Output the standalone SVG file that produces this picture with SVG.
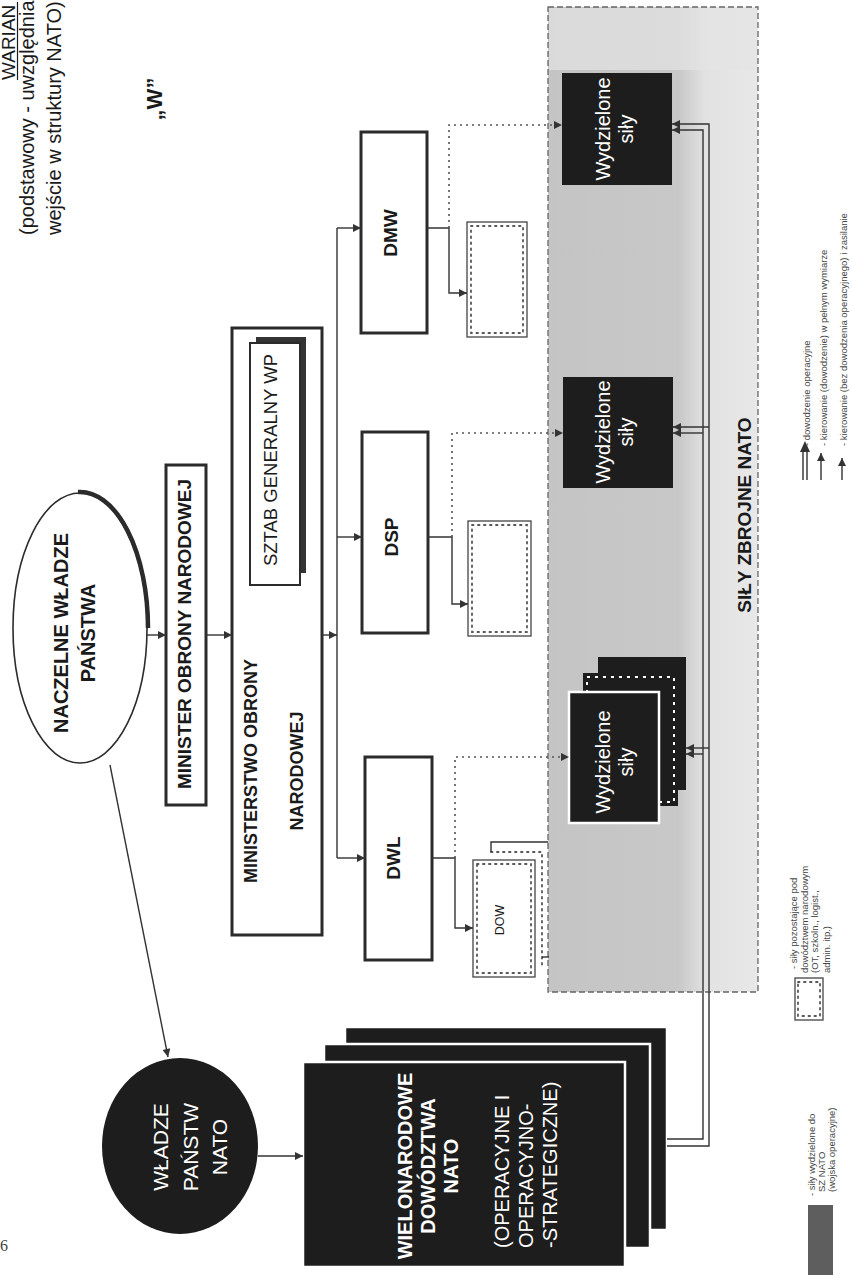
<svg xmlns="http://www.w3.org/2000/svg" width="852" height="1278" viewBox="0 0 852 1278">
<defs>
<style>
.t{font-family:"Liberation Sans",Arial,sans-serif;fill:#1a1a1a}
.b{font-weight:bold}
.w{fill:#ffffff}
.box{fill:#ffffff;stroke:#2b2b2b;stroke-width:3}
.dk{fill:#1d1d1d}
.stk{fill:#1d1d1d;stroke:#ffffff;stroke-width:2.5}
.ln{fill:none;stroke:#333333;stroke-width:1.4}
.dl{fill:none;stroke:#555555;stroke-width:1.6;stroke-dasharray:2 4}
.fb{fill:#ffffff;stroke:#444444;stroke-width:1.3}
.fd{fill:none;stroke:#555555;stroke-width:1.8;stroke-dasharray:1.5 4.5;stroke-linecap:round}
.lg{font-size:9.5px;fill:#444444}
</style>
<marker id="ah" markerUnits="userSpaceOnUse" viewBox="0 0 10 10" refX="10" refY="5" markerWidth="9" markerHeight="8" orient="auto"><path d="M0,0 L10,5 L0,10 z" fill="#333333"/></marker>
<linearGradient id="gg" x1="0" y1="0" x2="1" y2="0">
<stop offset="0" stop-color="#c4c4c4"/>
<stop offset="0.62" stop-color="#c8c8c8"/>
<stop offset="0.75" stop-color="#e2e2e2"/>
<stop offset="1" stop-color="#e8e8e8"/>
</linearGradient>
</defs>
<rect width="852" height="1278" fill="#ffffff"/>

<g id="header">
<text class="t" font-size="19" transform="translate(15,80) rotate(-90)">WARIAN</text>
<line x1="17.5" y1="80" x2="17.5" y2="2" stroke="#1a1a1a" stroke-width="1.2"/>
<text class="t" font-size="20" transform="translate(34,235) rotate(-90)">(podstawowy - uwzględnia</text>
<text class="t" font-size="20" transform="translate(61,235) rotate(-90)">wejście w struktury NATO)</text>
<text class="t b" font-size="22" text-anchor="middle" transform="translate(162,99) rotate(-90)">„W”</text>
</g>

<g id="sily-zbrojne-nato">
<rect x="548" y="7" width="210" height="985" fill="url(#gg)" stroke="#666666" stroke-width="1.3" stroke-dasharray="6 3"/>
<rect x="549" y="8" width="208" height="62" fill="#e4e4e4" opacity="0.7"/>
<text class="t b" font-size="19" text-anchor="middle" transform="translate(751,515) rotate(-90)">SIŁY ZBROJNE NATO</text>
</g>

<g id="naczelne-wladze">
<ellipse cx="80" cy="628" rx="67" ry="135" fill="#ffffff" stroke="#2b2b2b" stroke-width="1.6"/>
<path d="M78,492 A68,136 0 0 1 148,628" fill="none" stroke="#2b2b2b" stroke-width="4.5"/>
<text class="t b" font-size="20" text-anchor="middle" transform="translate(68,633) rotate(-90)">NACZELNE WŁADZE</text>
<text class="t b" font-size="20" text-anchor="middle" transform="translate(95,633) rotate(-90)">PAŃSTWA</text>
</g>

<g id="minister">
<rect class="box" x="166" y="465" width="40" height="340"/>
<text class="t b" font-size="19" text-anchor="middle" transform="translate(191,634) rotate(-90)">MINISTER OBRONY NARODOWEJ</text>
</g>

<g id="ministerstwo">
<rect class="box" x="232" y="328" width="90" height="607"/>
<text class="t b" font-size="18" text-anchor="middle" transform="translate(257,771) rotate(-90)">MINISTERSTWO OBRONY</text>
<text class="t b" font-size="18" text-anchor="middle" transform="translate(303,771) rotate(-90)">NARODOWEJ</text>
</g>

<g id="sztab">
<rect x="256" y="337" width="50" height="236" fill="#333333"/>
<rect x="250" y="343" width="50" height="242" fill="#ffffff" stroke="#2b2b2b" stroke-width="2"/>
<text class="t" font-size="18.5" text-anchor="middle" transform="translate(277,460) rotate(-90)">SZTAB GENERALNY WP</text>
</g>

<g id="dmw">
<rect class="box" x="361" y="132" width="66" height="201"/>
<text class="t b" font-size="19" text-anchor="middle" transform="translate(397,233) rotate(-90)">DMW</text>
</g>
<g id="dsp">
<rect class="box" x="362" y="432" width="66" height="201"/>
<text class="t b" font-size="19" text-anchor="middle" transform="translate(398,537) rotate(-90)">DSP</text>
</g>
<g id="dwl">
<rect class="box" x="365" y="757" width="67" height="203"/>
<text class="t b" font-size="19" text-anchor="middle" transform="translate(400,858) rotate(-90)">DWL</text>
</g>

<g id="dmw-sily-narodowe">
<rect class="fb" x="467" y="222" width="60" height="115"/>
<rect class="fd" x="471" y="226" width="52" height="107"/>
</g>
<g id="dsp-sily-narodowe">
<rect class="fb" x="468" y="521" width="63" height="115"/>
<rect class="fd" x="472" y="525" width="55" height="107"/>
</g>
<g id="dow">
<path class="fd" d="M491,852 H542 V967"/>
<rect class="fb" x="473" y="860" width="62" height="117"/>
<rect class="fd" x="477" y="864" width="54" height="109"/>
<text class="t" font-size="12.5" text-anchor="middle" transform="translate(504,920) rotate(-90)">DOW</text>
</g>

<g id="wydzielone-dmw">
<rect class="dk" x="562" y="73" width="110" height="112"/>
<text class="t w" font-size="20" text-anchor="middle" transform="translate(610,129) rotate(-90)">Wydzielone</text>
<text class="t w" font-size="20" text-anchor="middle" transform="translate(633,129) rotate(-90)">siły</text>
</g>
<g id="wydzielone-dsp">
<rect class="dk" x="563" y="377" width="110" height="111"/>
<text class="t w" font-size="20" text-anchor="middle" transform="translate(610,432) rotate(-90)">Wydzielone</text>
<text class="t w" font-size="20" text-anchor="middle" transform="translate(633,432) rotate(-90)">siły</text>
</g>
<g id="wydzielone-dwl">
<rect class="dk" x="598" y="657" width="88" height="133"/>
<rect class="dk" x="583" y="673" width="95" height="133"/>
<rect x="587" y="677" width="87" height="125" fill="none" stroke="#ffffff" stroke-width="2" stroke-dasharray="3 5"/>
<rect class="stk" x="569" y="692" width="90" height="131"/>
<text class="t w" font-size="20" text-anchor="middle" transform="translate(610,762) rotate(-90)">Wydzielone</text>
<text class="t w" font-size="20" text-anchor="middle" transform="translate(633,762) rotate(-90)">siły</text>
</g>

<g id="wladze-panstw-nato">
<ellipse cx="180" cy="1146" rx="78" ry="88" fill="#1d1d1d"/>
<text class="t w" font-size="21" text-anchor="middle" transform="translate(168,1147) rotate(-90)">WŁADZE</text>
<text class="t w" font-size="21" text-anchor="middle" transform="translate(198,1147) rotate(-90)">PAŃSTW</text>
<text class="t w" font-size="21" text-anchor="middle" transform="translate(227,1147) rotate(-90)">NATO</text>
</g>

<g id="wielonarodowe-dowodztwa">
<rect class="stk" x="345" y="1027" width="322" height="203"/>
<rect class="stk" x="324" y="1044" width="326" height="204"/>
<rect class="stk" x="303" y="1062" width="322" height="205"/>
<text class="t b w" font-size="20" text-anchor="middle" transform="translate(412,1166) rotate(-90)">WIELONARODOWE</text>
<text class="t b w" font-size="20" text-anchor="middle" transform="translate(435,1166) rotate(-90)">DOWÓDZTWA</text>
<text class="t b w" font-size="20" text-anchor="middle" transform="translate(458,1166) rotate(-90)">NATO</text>
<text class="t w" font-size="20" transform="translate(509,1248) rotate(-90)">(OPERACYJNE I</text>
<text class="t w" font-size="20" transform="translate(533,1248) rotate(-90)">OPERACYJNO-</text>
<text class="t w" font-size="20" transform="translate(557,1248) rotate(-90)">-STRATEGICZNE)</text>
</g>

<g id="connectors">
<path class="ln" d="M147,635 H166" marker-end="url(#ah)"/>
<path class="ln" d="M206,635 H232" marker-end="url(#ah)"/>
<path class="ln" d="M322,635 H337" marker-end="url(#ah)"/>
<path class="ln" d="M337,228 V858"/>
<path class="ln" d="M337,228 H361" marker-end="url(#ah)"/>
<path class="ln" d="M337,537 H362" marker-end="url(#ah)"/>
<path class="ln" d="M337,858 H365" marker-end="url(#ah)"/>
<path class="ln" d="M427,228 H449 V293 H467" marker-end="url(#ah)"/>
<path class="dl" d="M449,228 V125 H562" marker-end="url(#ah)"/>
<path class="ln" d="M428,537 H452 V604 H468" marker-end="url(#ah)"/>
<path class="dl" d="M452,537 V433 H563" marker-end="url(#ah)"/>
<path class="ln" d="M432,858 H455 V928 H473" marker-end="url(#ah)"/>
<path class="dl" d="M455,858 V757 H569" marker-end="url(#ah)"/>
<path class="ln" d="M491,852 V842 H548"/>
<path class="ln" d="M542,957 H549"/>
<path class="ln" d="M110,765 L168,1057" marker-end="url(#ah)"/>
<path class="ln" d="M258,1156 H303" marker-end="url(#ah)"/>
<path class="ln" d="M667,1146 H709 V124 H672" marker-end="url(#ah)"/>
<path class="ln" d="M667,1139 H703 V130 H672" marker-end="url(#ah)"/>
<path class="ln" d="M709,427 H673" marker-end="url(#ah)"/>
<path class="ln" d="M703,433 H673" marker-end="url(#ah)"/>
<path class="ln" d="M709,748 H686" marker-end="url(#ah)"/>
<path class="ln" d="M703,754 H686" marker-end="url(#ah)"/>
</g>

<g id="legend">
<path class="ln" d="M803,480 V451 M807,480 V451"/>
<path d="M805,441 L800,452 L810,452 z" fill="#333333"/>
<text class="t lg" transform="translate(810,446) rotate(-90)">- dowodzenie operacyjne</text>
<path class="ln" d="M821,480 V453" marker-end="url(#ah)"/>
<text class="t lg" transform="translate(827,446) rotate(-90)">- kierowanie (dowodzenie) w pełnym wymiarze</text>
<path class="ln" d="M842,480 V458" marker-end="url(#ah)"/>
<text class="t lg" transform="translate(847,446) rotate(-90)">- kierowanie (bez dowodzenia operacyjnego) i zasilanie</text>
<rect class="fb" x="795" y="978" width="28" height="42"/>
<rect class="fd" x="798" y="982" width="22" height="34"/>
<text class="t lg" transform="translate(797,969) rotate(-90)">- siły pozostające pod</text>
<text class="t lg" transform="translate(808,973) rotate(-90)">dowództwem narodowym</text>
<text class="t lg" transform="translate(818,973) rotate(-90)">(OT, szkoln.,  logist.,</text>
<text class="t lg" transform="translate(830,973) rotate(-90)">admin. itp.)</text>
<rect x="808" y="1205" width="25" height="70" fill="#5e5e5e"/>
<text class="t lg" transform="translate(815,1196) rotate(-90)">- siły wydzielone do</text>
<text class="t lg" transform="translate(825,1192) rotate(-90)">SZ NATO</text>
<text class="t lg" transform="translate(835,1192) rotate(-90)">(wojska operacyjne)</text>
</g>

<text x="0" y="1251" font-family="Liberation Serif, serif" font-size="16" fill="#444444">6</text>
</svg>
